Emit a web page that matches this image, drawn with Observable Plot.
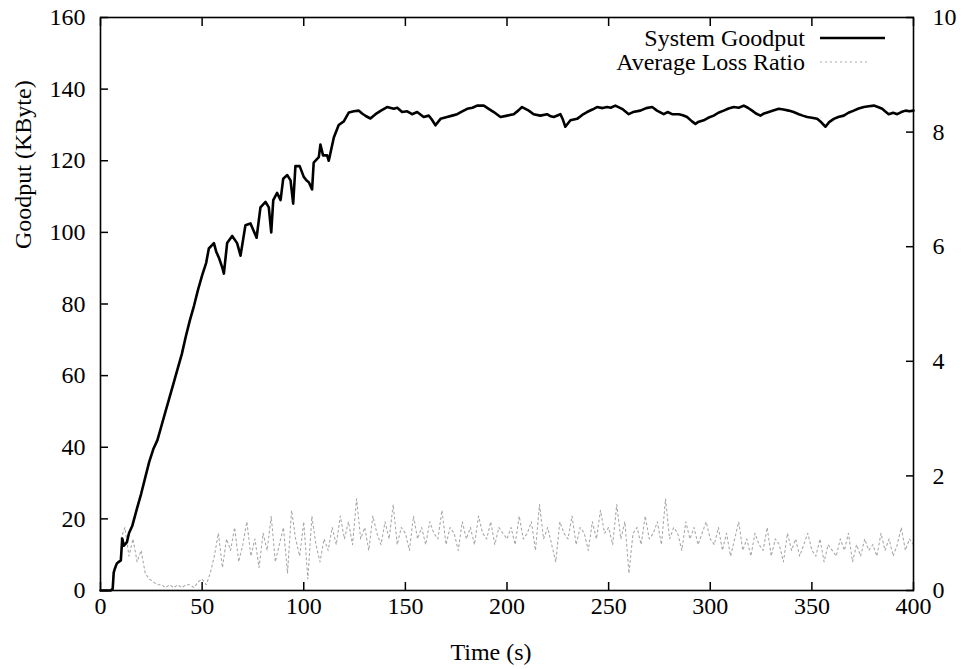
<!DOCTYPE html>
<html>
<head>
<meta charset="utf-8">
<script src="https://cdn.jsdelivr.net/npm/d3@7"></script>
<script src="https://cdn.jsdelivr.net/npm/@observablehq/plot@0.6"></script>
<style>
  html, body { margin: 0; padding: 0; background: #fff; }
  #chart { width: 967px; height: 669px; }
  #chart svg, #chart svg text { font-family: "Liberation Serif", "DejaVu Serif", serif !important; }
</style>
</head>
<body>
<div id="chart"></div>
<script>
// Goodput (KByte) vs time (s)
const goodTime = [0,5,6,6.5,7,8,9,10,10.7,11.5,13,14,15.6,18,20,22,24,26,28,30,32,34,36,38,40,42,44,46,48,50,52,53.3,55,55.8,57,58.2,60,60.7,62.3,64.8,67.2,68.9,71.3,73.8,76.8,78.7,81.2,82.8,84,85,86.9,88.6,89.9,91.9,93.5,94.8,95.9,98,100,101.4,102.5,104.1,104.9,107.4,108.2,109.5,111.5,112.3,114.8,117.2,119.7,122.2,124.6,127.1,128.7,130.5,132.8,135.3,138,141,144.3,146,148.4,150.9,153.3,155.8,159,161.5,163,164.8,167.3,170.5,173,175.5,178,180.4,183,185.3,188.6,191,193.5,196.8,200.1,203.3,205.5,207.4,210.7,213.1,216.4,219.7,221.5,223,226.3,227.5,228.7,231.2,234.5,237,239.4,242,244.3,247,249.3,251,253.3,256.6,259.9,262,265.6,268.5,271.4,273.8,277.1,279,281.2,284.5,286.5,288.6,291,292.7,294,296.8,299,301.7,304,306.6,309,311.6,314,316.5,318.5,320.6,322.5,324.7,326.5,328.8,331,333.7,336,338.6,341,343.6,345.5,347.7,350,352.6,354.5,356.7,358.5,360.8,363,365.7,368,370.6,373,375.6,378,380.5,382.5,384.6,386,387.8,390,392,394,396.1,398,400];
const goodValue = [0,0,0.5,5,6,7.5,8,8.4,14.5,12.5,13.5,16,18,23,27,31.5,36,39.5,42,46,50,54,58,62,66,71,75.5,79.5,84,88,91.5,95.5,96.5,97,94.5,93,90,88.5,97,99,97,93.5,102,102.5,98.5,107,108.5,107,100,109,111,109,115,116,114.5,108,118.5,118.5,115.5,114.5,114,112,119.5,121,124.5,121.5,121.5,120,126.5,130,131,133.5,133.8,134,133.2,132.5,131.8,133,134,135,134.5,134.8,133.6,133.8,133,133.6,132.2,132.6,131.5,129.9,131.7,132.2,132.6,133,133.8,134.5,134.8,135.4,135.4,134.5,133.6,132.2,132.6,133,134,135,134,133,132.6,133,132.4,132.2,133,131.5,129.5,131.3,131.7,132.8,133.6,134.3,135,134.7,135,134.8,135.4,134.5,133,133.6,134,134.7,135,134,133,133.6,133,133,132.7,132.2,131,130.3,130.8,131.3,132,132.6,133.4,134,134.6,135,134.8,135.4,134.8,134,133.2,132.6,133.2,133.6,134,134.5,134.3,134,133.6,133,132.6,132.2,132,131.7,130.8,129.5,130.8,131.7,132.2,132.6,133.4,134,134.6,135,135.2,135.4,135,134.5,133.8,133,133.4,133,133.6,134,133.8,134];

// Average loss ratio (right axis, 0-10) vs time (s)
const lossTime = [10,12,14,16,18,20,22,24,26,28,30,32,34,36,38,40,42,44,46,48,50,52,54,
  56,58,60,62,64,66,68,70,72,74,76,78,80,82,84,86,88,90,92,94,96,98,100,102,104,106,108,110,
  112,114,116,118,120,122,124,126,128,130,132,134,136,138,140,142,144,146,148,150,152,154,156,158,160,162,164,166,168,170,172,174,176,178,180,182,184,186,188,190,192,194,196,198,200,
  202,204,206,208,210,212,214,216,218,220,222,224,226,228,230,232,234,236,238,240,242,244,246,248,250,252,254,256,258,260,262,264,266,268,270,272,274,276,278,280,282,284,286,288,290,292,294,296,298,300,
  302,304,306,308,310,312,314,316,318,320,322,324,326,328,330,332,334,336,338,340,342,344,346,348,350,352,354,356,358,360,362,364,366,368,370,372,374,376,378,380,382,384,386,388,390,392,394,396,398,400];
const lossValue = [0.9,1.1,0.6,0.9,0.5,0.7,
  0.3,0.2,0.15,0.1,0.1,0.05,0.1,0.05,0.1,0.05,0.1,0.1,0.05,0.15,0.2,0.1,0.3,
  0.6,1.0,0.4,0.9,0.7,1.1,0.5,0.8,1.2,0.6,0.9,0.4,1.0,0.7,1.3,0.5,0.8,1.1,0.3,1.4,0.9,0.6,1.2,0.2,1.3,0.8,0.5,0.9,
  0.7,1.1,0.8,1.3,0.9,1.2,0.8,1.6,0.9,1.1,0.7,1.3,1.0,0.8,1.2,0.9,1.5,0.8,1.1,1.0,0.7,1.3,0.9,1.1,0.8,1.2,1.0,0.9,1.4,0.8,1.1,1.0,0.7,1.2,0.9,1.1,0.8,1.3,1.0,0.9,1.2,0.8,1.1,1.0,0.9,
  1.1,0.8,1.3,0.9,1.0,1.2,0.7,1.5,0.9,1.1,0.8,0.5,1.2,1.0,0.9,1.3,0.8,1.1,1.0,0.7,1.2,0.9,1.4,1.0,1.1,0.8,1.5,0.9,1.2,0.3,1.0,1.1,0.8,1.3,0.9,1.0,1.2,0.8,1.6,0.9,1.1,1.0,0.7,1.2,0.9,1.1,0.8,1.0,1.2,0.9,
  0.8,1.1,0.7,1.0,0.6,0.9,1.2,0.7,0.9,0.6,1.0,0.8,0.7,1.1,0.6,0.9,0.8,0.5,1.0,0.7,0.9,0.6,0.8,1.0,0.7,0.6,0.9,0.5,0.8,0.7,0.6,0.9,0.7,1.0,0.5,0.8,0.6,0.9,0.7,0.8,0.6,1.0,0.7,0.9,0.6,0.8,1.1,0.7,0.9,0.8];

const xTicks = [0,50,100,150,200,250,300,350,400];
const yTicks = [0,20,40,60,80,100,120,140,160];
const y2Ticks = [0,2,4,6,8,10];
const yMax = 160, y2Max = 10;
const seriesNames = ["System Goodput", "Average Loss Ratio"];

const good = goodTime.map((t, i) => ({t, v: goodValue[i]}));
const loss = lossTime.map((t, i) => ({t, v: lossValue[i]}));
const k = yMax / y2Max;
const FONT = "Liberation Serif, DejaVu Serif, serif";

const chart = Plot.plot({
  width: 967,
  height: 669,
  marginLeft: 100,
  marginRight: 54,
  marginTop: 17,
  marginBottom: 79,
  style: {fontFamily: FONT, fontSize: "24px", color: "#000", background: "#fff", overflow: "visible"},
  x: {domain: [0, 400]},
  y: {domain: [0, yMax]},
  marks: [
    Plot.line(loss, {x: "t", y: d => d.v * k, stroke: "#a8a8a8", strokeWidth: 1.1, strokeDasharray: "2,3"}),
    Plot.line(good, {x: "t", y: "v", stroke: "#000", strokeWidth: 2.6, strokeLinejoin: "round"}),
    Plot.frame({stroke: "#000", strokeWidth: 1.6}),
    Plot.axisX({anchor: "bottom", ticks: xTicks, tickSize: -8, tickPadding: 14, label: null, stroke: "#000", strokeWidth: 1.5}),
    Plot.axisX({anchor: "top", ticks: xTicks, tickSize: -8, tickFormat: () => "", label: null, strokeWidth: 1.5}),
    Plot.axisY({anchor: "left", ticks: yTicks, tickSize: -8, tickPadding: 23, label: null, strokeWidth: 1.5}),
    Plot.axisY({anchor: "right", ticks: y2Ticks.map(d => d * k), tickFormat: d => String(d / k), tickSize: -8, tickPadding: 27, label: null, strokeWidth: 1.5}),
    Plot.text(["Time (s)"], {frameAnchor: "bottom", dx: -16, dy: 62, lineAnchor: "middle", fontSize: 24}),
    Plot.text(["Goodput (KByte)"], {frameAnchor: "left", dx: -77, dy: -55, rotate: -90, fontSize: 24})
  ]
});

document.getElementById("chart").appendChild(chart);

// Legend (inside plot, top right)
const svg = d3.select(chart);
const lg = svg.append("g").attr("font-family", FONT).attr("font-size", 24);
lg.append("text").attr("x", 805).attr("y", 38).attr("dy", "0.32em").attr("text-anchor", "end").text(seriesNames[0]);
lg.append("line").attr("x1", 820).attr("x2", 885).attr("y1", 38).attr("y2", 38).attr("stroke", "#000").attr("stroke-width", 2.6);
lg.append("text").attr("x", 805).attr("y", 62).attr("dy", "0.32em").attr("text-anchor", "end").text(seriesNames[1]);
lg.append("line").attr("x1", 820).attr("x2", 868).attr("y1", 62).attr("y2", 62).attr("stroke", "#a8a8a8").attr("stroke-width", 1.1).attr("stroke-dasharray", "2,3");
</script>
</body>
</html>
